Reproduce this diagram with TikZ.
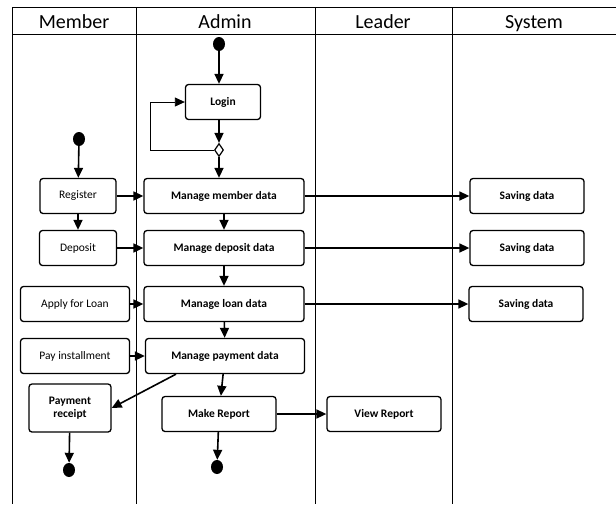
\documentclass[tikz,border=0pt]{standalone}
\usepackage{fontspec}
\setmainfont{Carlito}
\usetikzlibrary{arrows.meta,shapes.geometric}
\tikzstyle{action} = [rectangle, rounded corners = 3pt, minimum height = 35pt,
	inner sep = 0pt, text centered, line width = 1.3pt, draw = black,
	font = \fontsize{11.5}{13}\selectfont]
\tikzstyle{dot} = [ellipse, fill = black, minimum width = 12pt, minimum height = 14pt, inner sep = 0pt]
\tikzstyle{choice} = [diamond, draw = black, line width = 1.2pt, fill = white,
	minimum width = 9pt, minimum height = 13pt, inner sep = 0pt]
\tikzstyle{arrow} = [line width = 1.6pt, -{Triangle[length = 10pt, width = 9pt]}]
\tikzstyle{lane} = [line width = 0.8pt]
\tikzstyle{head} = [anchor = base, font = \fontsize{20}{24}\selectfont]

\begin{document}
\begin{tikzpicture}[x = 1pt, y = -1pt]
\useasboundingbox (0,0) rectangle (616,504);

% swimlanes
\draw [lane] (616,7) -- (12,7) -- (12,504);
\draw [lane] (12,34) -- (616,34);
\draw [lane] (136,7) -- (136,504);
\draw [lane] (315,7) -- (315,504);
\draw [lane] (452,7) -- (452,504);
\node (H0) [head] at (74,28) {Member};
\node (H1) [head] at (225,28) {Admin};
\node (H2) [head] at (383,28) {Leader};
\node (H3) [head] at (534,28) {System};

% member
\node (MS) [dot] at (79,139) {};
\node (M0) [action, minimum width = 76pt] at (78,196) {Register};
\node (M1) [action, minimum width = 77pt] at (78,248) {Deposit};
\node (M2) [action, minimum width = 109pt] at (75,304) {Apply for Loan};
\node (M3) [action, minimum width = 109pt] at (75,356) {Pay installment};
\node (M4) [action, minimum width = 82pt, minimum height = 48pt, align = center,
	font = \fontsize{11.5}{13}\selectfont\bfseries] at (70,408) {Payment\\receipt};
\node (ME) [dot] at (69,470) {};

% admin
\node (AS) [dot] at (219,44) {};
\node (A0) [action, minimum width = 75pt, font = \fontsize{11.5}{13}\selectfont\bfseries] at (223,102) {Login};
\node (AD) [choice] at (219,150) {};
\node (A1) [action, minimum width = 160pt, font = \fontsize{11.5}{13}\selectfont\bfseries] at (224,196) {Manage member data};
\node (A2) [action, minimum width = 160pt, font = \fontsize{11.5}{13}\selectfont\bfseries] at (224,248) {Manage deposit data};
\node (A3) [action, minimum width = 160pt, font = \fontsize{11.5}{13}\selectfont\bfseries] at (224,304) {Manage loan data};
\node (A4) [action, minimum width = 159pt, font = \fontsize{11.5}{13}\selectfont\bfseries] at (225,356) {Manage payment data};
\node (A5) [action, minimum width = 114pt, font = \fontsize{11.5}{13}\selectfont\bfseries] at (219,414) {Make Report};
\node (AE) [dot] at (217,467) {};

% leader
\node (L0) [action, minimum width = 114pt, font = \fontsize{11.5}{13}\selectfont\bfseries] at (384,414) {View Report};

% system
\node (S0) [action, minimum width = 114pt, font = \fontsize{11.5}{13}\selectfont\bfseries] at (527,196) {Saving data};
\node (S1) [action, minimum width = 114pt, font = \fontsize{11.5}{13}\selectfont\bfseries] at (527,248) {Saving data};
\node (S2) [action, minimum width = 114pt, font = \fontsize{11.5}{13}\selectfont\bfseries] at (526,304) {Saving data};

\draw [arrow] (AS) -- (AS |- A0.north);
\draw [arrow] (A0.south -| AD) -- (AD);
\draw [arrow] (AD) -- (AD |- A1.north);
\draw [line width = 0.8pt, -{Triangle[length = 10pt, width = 9pt]}]
	(AD.west) -| ([xshift = -34pt]A0.west) |- (A0.west);
\draw [arrow] (MS) -- (M0);
\draw [arrow] (M0) -- (A1);
\draw [arrow] (M0) -- (M1);
\draw [arrow] (M1) -- (A2);
\draw [arrow] (M2) -- (A3);
\draw [arrow] (M3) -- (A4);
\draw [arrow] (A1) -- (A2);
\draw [arrow] (A2) -- (A3);
\draw [arrow] (A3) -- (A4);
\draw [arrow] (A4) -- (A5);
\draw [arrow] ([xshift = -49pt]A4.south) -- (M4.east);
\draw [arrow] (M4) -- (ME);
\draw [arrow] (A5) -- (AE);
\draw [arrow] (A5) -- (L0);
\draw [arrow] (A1) -- (S0);
\draw [arrow] (A2) -- (S1);
\draw [arrow] (A3) -- (S2);
\end{tikzpicture}
\end{document}
